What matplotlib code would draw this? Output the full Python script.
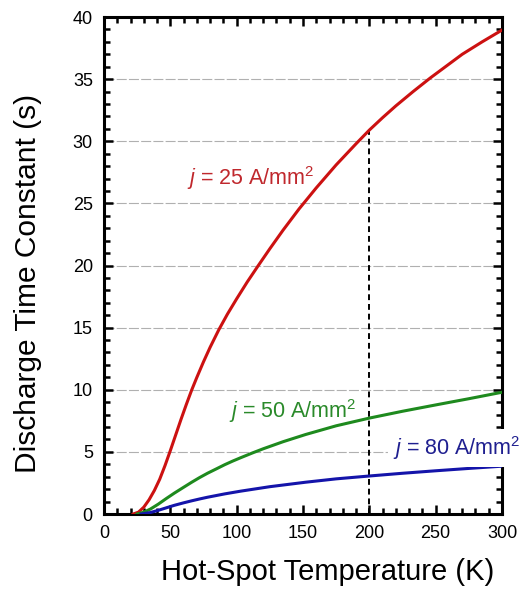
import numpy as np
import matplotlib
matplotlib.use("Agg")
import matplotlib.pyplot as plt
from matplotlib.ticker import MultipleLocator

plt.rcParams['font.family'] = ['Liberation Sans', 'DejaVu Sans']
plt.rcParams['mathtext.fontset'] = 'custom'
plt.rcParams['mathtext.rm'] = 'Liberation Sans'
plt.rcParams['mathtext.it'] = 'Liberation Sans:italic'

# j = 25 A/mm2
temp_25 = [22, 26, 30, 34, 38, 42, 46, 50, 54, 58, 62, 66, 70, 75, 80, 86.5, 93, 100,
           108, 116, 125, 135, 147, 160, 175, 190, 200, 210, 220, 233, 246, 258, 270, 285, 300]
tau_25 = [0, 0.15, 0.55, 1.15, 1.9, 2.8, 3.9, 5.1, 6.35, 7.6, 8.8, 9.95, 11.0, 12.25, 13.42, 14.82, 16.08, 17.32,
          18.68, 19.95, 21.35, 22.85, 24.55, 26.25, 28.1, 29.8, 30.9, 31.9, 32.85, 34.0, 35.1, 36.05, 37.0, 38.0, 38.95]

# j = 50 A/mm2
temp_50 = [25, 30, 35, 41, 47, 53, 60, 66, 72, 78, 85, 91, 97, 103, 112, 120, 135, 152,
           175, 200, 225, 251, 275, 300]
tau_50 = [0, 0.15, 0.4, 0.8, 1.25, 1.68, 2.15, 2.55, 2.93, 3.28, 3.65, 3.97, 4.26, 4.53, 4.92, 5.25, 5.82, 6.4,
          7.1, 7.72, 8.27, 8.8, 9.28, 9.8]

# j = 80 A/mm2
temp_80 = [28, 35, 41, 47, 53, 60, 66, 72, 78, 91, 103, 125, 152, 175, 200, 225, 250, 275, 300]
tau_80 = [0, 0.12, 0.3, 0.5, 0.7, 0.9, 1.06, 1.21, 1.35, 1.62, 1.84, 2.2, 2.56, 2.83, 3.06, 3.28, 3.48, 3.67, 3.85]

marker_temp = 200
marker_tau = tau_25[temp_25.index(marker_temp)]

fig = plt.figure(figsize=(5.22, 5.95), dpi=100)
ax = fig.add_axes([0.1992, 0.1361, 0.7625, 0.8353])

ax.plot(temp_25, tau_25, color='#cc1111', lw=2.2, zorder=3)
ax.plot(temp_50, tau_50, color='#1e8a1e', lw=2.2, zorder=3)
ax.plot(temp_80, tau_80, color='#1414aa', lw=2.2, zorder=3)

ax.plot([marker_temp, marker_temp], [0, marker_tau], color='black', lw=1.4,
        dashes=(3, 2), zorder=2)

ax.set_xlim(0, 300)
ax.set_ylim(0, 40)
ax.xaxis.set_major_locator(MultipleLocator(50))
ax.xaxis.set_minor_locator(MultipleLocator(10))
ax.yaxis.set_major_locator(MultipleLocator(5))
ax.yaxis.set_minor_locator(MultipleLocator(1))

for yv in range(5, 40, 5):
    ax.axhline(yv, color='#b0b0b0', lw=0.8, dashes=(9, 2), zorder=1)

for s in ax.spines.values():
    s.set_linewidth(2.2)

ax.tick_params(which='both', direction='in', top=True, right=True, width=1.8,
               labelsize=13)
ax.tick_params(which='major', length=6.5)
ax.tick_params(which='minor', length=4)
ax.tick_params(axis='x', pad=8)
ax.tick_params(axis='y', pad=8)

ax.set_xlabel('Hot-Spot Temperature (K)', fontsize=21)
ax.xaxis.set_label_coords(0.5615, -0.117)
ax.xaxis.label.set_va('center')
ax.set_ylabel('Discharge Time Constant (s)', fontsize=21.5)
ax.yaxis.set_label_coords(-0.191, 0.463)
ax.yaxis.label.set_va('center')

ax.text(111, 27.0, r'$j$ = 25 A/mm$^2$', color='#c0282d', fontsize=15.5,
        ha='center', va='center')
ax.text(142, 8.3, r'$j$ = 50 A/mm$^2$', color='#2a8a2a', fontsize=15.5,
        ha='center', va='center')
ax.text(266, 5.3, r'$j$ = 80 A/mm$^2$', color='#1f1f90', fontsize=15.5,
        ha='center', va='center', clip_on=False, zorder=5,
        bbox=dict(boxstyle='square,pad=0.25', fc='white', ec='none'))

fig.savefig('out.png', dpi=100)
